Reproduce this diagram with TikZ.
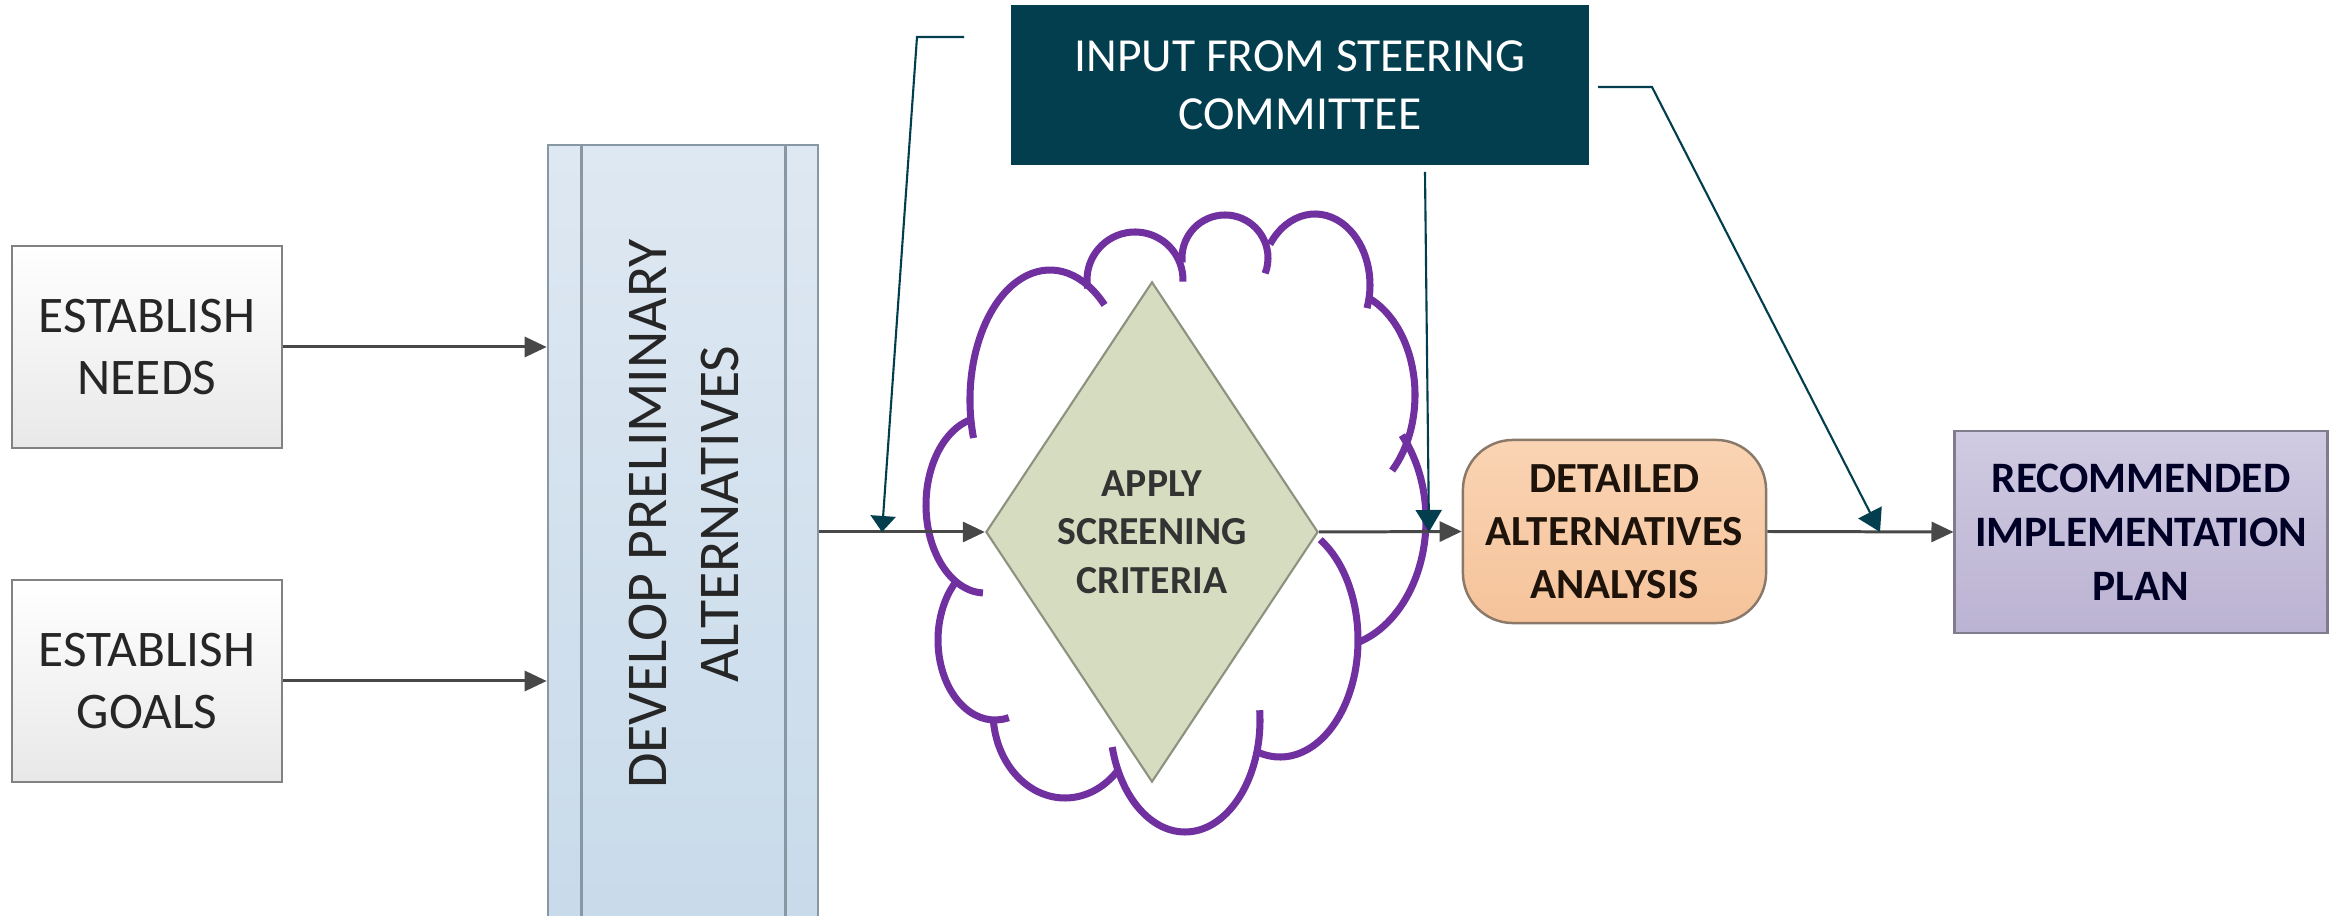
\documentclass[tikz,border=0pt]{standalone}
\usepackage{fontspec}
\setmainfont{Carlito}
\usetikzlibrary{arrows.meta,shapes.geometric,calc}
\definecolor{steerteal}{RGB}{3,62,78}
\definecolor{flowgrey}{RGB}{72,72,72}
\definecolor{cloudpurple}{RGB}{112,48,160}
\definecolor{boxgrey}{RGB}{130,130,130}
\definecolor{devtop}{RGB}{222,232,242}
\definecolor{devbot}{RGB}{200,218,234}
\definecolor{devedge}{RGB}{135,151,163}
\definecolor{diafill}{RGB}{214,220,192}
\definecolor{diaedge}{RGB}{141,146,128}
\definecolor{dettop}{RGB}{250,212,180}
\definecolor{detbot}{RGB}{245,195,154}
\definecolor{detedge}{RGB}{138,120,104}
\definecolor{rectop}{RGB}{208,202,226}
\definecolor{recbot}{RGB}{187,179,210}
\definecolor{recedge}{RGB}{128,124,142}
\newcommand\cloudlobe[6]{\draw[cloudline] ([shift={(#1,#2)}]#5:#3 and #4) arc[start angle=#5, end angle=#6, x radius=#3, y radius=#4];}
\begin{document}
\begin{tikzpicture}[x=0.01cm,y=-0.01cm,
  greybox/.style={draw=boxgrey, line width=0.8pt, top color=white, bottom color=black!9,
    minimum width=2.70cm, minimum height=2.02cm, align=center, inner sep=0pt,
    text=black!85, font=\fontsize{14.6pt}{17.9pt}\selectfont},
  devbox/.style={draw=devedge, line width=0.7pt, top color=devtop, bottom color=devbot,
    minimum width=2.70cm, minimum height=7.90cm, inner sep=0pt},
  devline/.style={draw=devedge, line width=0.7pt},
  steerbox/.style={fill=steerteal, text=white, minimum width=5.78cm, minimum height=1.60cm,
    align=center, inner sep=0pt, font=\fontsize{13.5pt}{16.5pt}\selectfont},
  flow/.style={draw=flowgrey, line width=0.85pt, -{Triangle[length=0.22cm,width=0.2cm]}},
  steerline/.style={draw=steerteal, line width=0.6pt, -{Triangle[length=0.22cm,width=0.26cm]}},
  cloudline/.style={draw=cloudpurple, line width=2pt},
  boldtext/.style={align=center, inner sep=0pt}
]
\useasboundingbox (0,0) rectangle (2341,916);
\fill[white] (0,0) rectangle (2341,916);
\clip (0,0) rectangle (2341,916);

% left boxes
\node[greybox] (needs) at (147,347) {ESTABLISH\\NEEDS};
\node[greybox] (goals) at (147,681) {ESTABLISH\\GOALS};

% develop box
\node[devbox] (dev) at (683,540) {};
\draw[devline] ($(dev.north west)+(35,0)$) -- ($(dev.south west)+(35,0)$);
\draw[devline] ($(dev.north east)+(-34,0)$) -- ($(dev.south east)+(-34,0)$);
\node[rotate=90, align=center, inner sep=0pt, text=black!85,
  font=\fontsize{16.4pt}{20.5pt}\selectfont] (devtext) at (684,514) {DEVELOP PRELIMINARY\\ALTERNATIVES};

% cloud
\cloudlobe{1050}{400}{80}{130}{163}{313}
\cloudlobe{1135}{280}{48}{48}{170}{362}
\cloudlobe{1225}{258}{43}{43}{174}{381}
\cloudlobe{1315}{285}{55}{71}{215}{379}
\cloudlobe{1340}{395}{75}{105}{-68}{46}
\cloudlobe{1330}{520}{96}{128}{-41.5}{72}
\cloudlobe{1280}{640}{78}{117}{-59}{106}
\cloudlobe{1185}{720}{75}{112}{-5}{166}
\cloudlobe{1065}{712}{72}{86}{42}{176}
\cloudlobe{995}{640}{57}{80}{76}{229}
\cloudlobe{985}{505}{59}{88}{92}{255}

% main flow
\node[diamond, draw=diaedge, fill=diafill, line width=0.6pt, minimum width=3.32cm,
  minimum height=5.00cm, inner sep=0pt] (screen) at (1152,532) {};
\node[boldtext, text=black!80, font=\bfseries\fontsize{11.3pt}{13.8pt}\selectfont]
  (screentext) at (screen.center) {APPLY\\SCREENING\\CRITERIA};
\node[rounded corners=0.5cm, draw=detedge, line width=0.7pt, top color=dettop, bottom color=detbot,
  minimum width=3.03cm, minimum height=1.83cm, boldtext, text=black!85!brown,
  font=\bfseries\fontsize{12.2pt}{15.1pt}\selectfont] (detail) at (1614.5,531.5) {DETAILED\\ALTERNATIVES\\ANALYSIS};
\node[draw=recedge, line width=0.8pt, top color=rectop, bottom color=recbot,
  minimum width=3.72cm, minimum height=2.02cm, boldtext, text=black!85!blue,
  font=\bfseries\fontsize{12.35pt}{15.4pt}\selectfont] (recommend) at (2141,532) {RECOMMENDED\\IMPLEMENTATION\\PLAN};

\draw[flow] (needs.east) -- (needs.east -| dev.west);
\draw[flow] (goals.east) -- (goals.east -| dev.west);
\draw[flow] (dev.east |- screen.west) -- (screen.west);
\draw[flow] (screen.east) -- (detail.west);
\draw[flow] (detail.east) -- (recommend.west);

% steering committee
\node[steerbox] (steer) at (1300,85) {INPUT FROM STEERING\\COMMITTEE};
\coordinate (sl1) at (964,37);
\coordinate (sl2) at (917,37);
\coordinate (sl3) at (882,532);
\draw[steerline, -{Triangle[length=0.16cm,width=0.25cm]}] (sl1) -- (sl2) -- (sl3);
\coordinate (sm1) at (1425,172);
\coordinate (sm2) at (1429,532);
\draw[steerline] (sm1) -- (sm2);
\coordinate (sr1) at (1598,87);
\coordinate (sr2) at (1652,87);
\coordinate (sr3) at (1880,532);
\draw[steerline] (sr1) -- (sr2) -- (sr3);
\end{tikzpicture}
\end{document}
